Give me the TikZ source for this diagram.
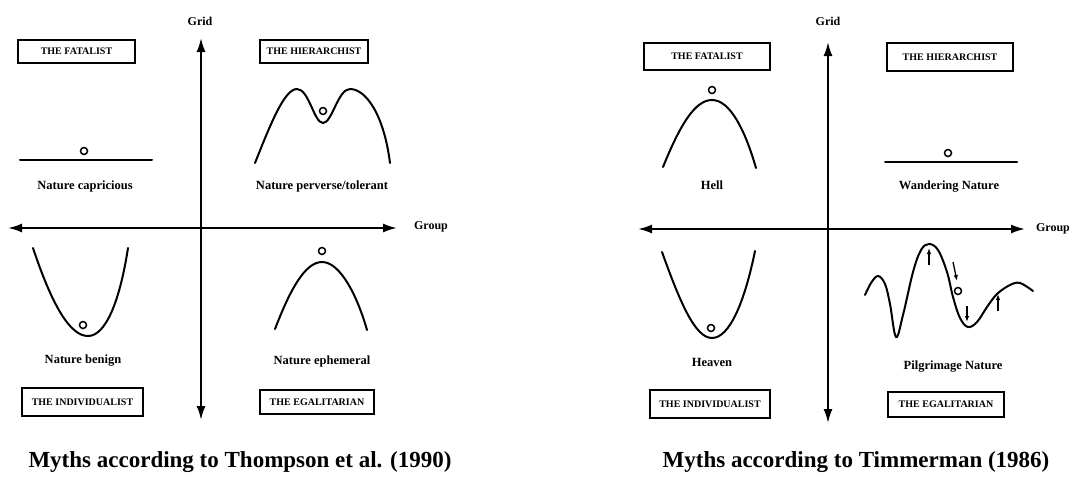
\documentclass[tikz,border=0pt]{standalone}
\usepackage{fontspec}
\setmainfont{Liberation Serif}
\usetikzlibrary{arrows.meta}
\begin{document}
\begin{tikzpicture}[x=1pt,y=-1pt,
  axis/.style={line width=2pt, {Latex[length=14pt,width=9pt]}-{Latex[length=14pt,width=9pt]}},
  curve/.style={line width=2pt, line cap=round},
  ball/.style={circle, draw, line width=1.5pt, fill=white, minimum size=7pt, inner sep=0pt},
  rolebox/.style={draw, line width=1.4pt, inner sep=0pt, font=\fontsize{10}{12}\selectfont\bfseries},
  lbl/.style={font=\fontsize{12.5}{14}\selectfont\bfseries},
  axlbl/.style={font=\fontsize{12}{14}\selectfont\bfseries},
  ttl/.style={font=\fontsize{23}{26}\selectfont\bfseries, anchor=base},
  tinyarrow/.style={line width=1.3pt, -{Latex[length=6pt,width=4.5pt]}}]
\useasboundingbox (0,0) rectangle (1070,480);

% ===== Left panel =====
\coordinate (LT) at (201,38);
\coordinate (LB) at (201,420);
\coordinate (LL) at (8,228);
\coordinate (LR) at (397,228);
\draw[axis] (LB) -- (LT);
\draw[axis] (LL) -- (LR);
\node[axlbl] (lgrid) at (200,21) {Grid};
\node[axlbl] (lgroup) at (431,227) {Group};

\node[rolebox, minimum width=117pt, minimum height=23pt] (lfat) at (76.5,51.5) {THE FATALIST};
\node[rolebox, minimum width=108pt, minimum height=23pt] (lhier) at (314,51.5) {THE HIERARCHIST};
\node[rolebox, minimum width=121pt, minimum height=28pt] (lind) at (82.5,402) {THE INDIVIDUALIST};
\node[rolebox, minimum width=114pt, minimum height=24pt] (legal) at (317,402) {THE EGALITARIAN};

% capricious
\draw[curve] (20,160) -- (152,160);
\node[ball] (lc1) at (84,151) {};
\node[lbl] (lcap) at (85,186) {Nature capricious};

% perverse/tolerant
\draw[curve] (255,163) .. controls (272,120) and (285,89) .. (297,89)
  .. controls (309,89) and (314,123) .. (323,123)
  .. controls (332,123) and (338,89) .. (350,89)
  .. controls (366,89) and (384,115) .. (390,163);
\node[ball] (lc2) at (323,111) {};
\node[lbl] (lper) at (322,186) {Nature perverse/tolerant};

% benign
\draw[curve] (33,248) .. controls (52,305) and (70,336) .. (88,336)
  .. controls (106,336) and (120,300) .. (128,248);
\node[ball] (lc3) at (83,325) {};
\node[lbl] (lben) at (83,361) {Nature benign};

% ephemeral
\draw[curve] (275,329) .. controls (290,290) and (305,262) .. (322,262)
  .. controls (340,262) and (357,295) .. (367,330);
\node[ball] (lc4) at (322,251) {};
\node[lbl] (leph) at (322,361) {Nature ephemeral};

\node[ttl] (ltitle) at (240,467) {Myths according to Thompson et al. (1990)};

% ===== Right panel =====
\coordinate (RT) at (828,42);
\coordinate (RB) at (828,423);
\coordinate (RL) at (638,229);
\coordinate (RR) at (1025,229);
\draw[axis] (RB) -- (RT);
\draw[axis] (RL) -- (RR);
\node[axlbl] (rgrid) at (828,21) {Grid};
\node[axlbl] (rgroup) at (1053,229) {Group};

\node[rolebox, minimum width=126pt, minimum height=27pt] (rfat) at (707,56.5) {THE FATALIST};
\node[rolebox, minimum width=126pt, minimum height=28pt] (rhier) at (950,57) {THE HIERARCHIST};
\node[rolebox, minimum width=120pt, minimum height=28pt] (rind) at (710,404) {THE INDIVIDUALIST};
\node[rolebox, minimum width=116pt, minimum height=25pt] (regal) at (946,404.5) {THE EGALITARIAN};

% hell
\draw[curve] (663,167) .. controls (680,125) and (695,100) .. (712,100)
  .. controls (730,100) and (745,130) .. (756,168);
\node[ball] (rc1) at (712,90) {};
\node[lbl] (rhell) at (712,185) {Hell};

% wandering
\draw[curve] (885,162) -- (1017,162);
\node[ball] (rc2) at (948,153) {};
\node[lbl] (rwand) at (949,187) {Wandering Nature};

% heaven
\draw[curve] (662,252) .. controls (680,302) and (695,338) .. (712,338)
  .. controls (730,338) and (745,300) .. (755,251);
\node[ball] (rc3) at (711,328) {};
\node[lbl] (rheav) at (712,362) {Heaven};

% pilgrimage
\draw[curve] plot[smooth, tension=0.6] coordinates {(865,295) (871,283) (878,276) (885,284) (890,304) (896,337) (903,315) (913,272) (921,250) (929,244) (938,250) (947,272) (953,297) (960,318) (968,327) (977,322) (987,307) (997,294) (1010,285) (1020,283) (1033,291)};
\coordinate (pa1) at (929,265);
\coordinate (pa2) at (929,248);
\draw[tinyarrow] (pa1) -- (pa2);
\coordinate (pb1) at (953,262);
\coordinate (pb2) at (957,281);
\draw[tinyarrow] (pb1) -- (pb2);
\coordinate (pc1) at (967,306);
\coordinate (pc2) at (967,322);
\draw[tinyarrow] (pc1) -- (pc2);
\coordinate (pd1) at (998,311);
\coordinate (pd2) at (998,294);
\draw[tinyarrow] (pd1) -- (pd2);
\node[ball] (rc4) at (958,291) {};
\node[lbl] (rpil) at (953,367) {Pilgrimage Nature};

\node[ttl] (rtitle) at (856,467) {Myths according to Timmerman (1986)};
\end{tikzpicture}
\end{document}
